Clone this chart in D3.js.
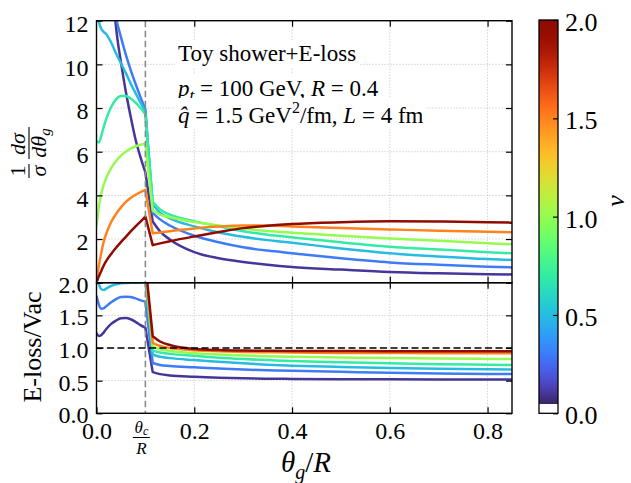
<!DOCTYPE html>
<html><head><meta charset="utf-8">
<script src="https://cdn.jsdelivr.net/npm/d3@7"></script>
<style>
body{margin:0;background:#fff}
svg{display:block}
text{font-family:"Liberation Serif","Times New Roman",serif;fill:#000}
</style>
</head><body>
<svg id="c" width="631" height="483"></svg>
<script>
// ---------------- data ----------------
const nuValues = [0.1, 0.3, 0.5, 0.7, 1.0, 1.5, 2.0];
const thetaGrid = [0,0.005,0.01,0.015,0.02,0.03,0.04,0.05,0.06,0.07,0.08,0.09,0.1,0.115,0.13,0.15,0.2,0.25,0.3,0.35,0.4,0.5,0.6,0.7,0.8,0.85];
const thetaC = 0.1;
// top panel: (1/sigma) dsigma/dtheta_g
const dist_nu01 = [30,26,23,20.5,18.5,14.5,11.7,10.1,8.75,7.6,6.55,5.75,5.05,2.8,2.35,1.98,1.4,1.12,0.95,0.82,0.72,0.6,0.49,0.43,0.39,0.38];
const dist_nu03 = [17.5,16.7,16,15.2,14.5,13.2,12.1,11.25,10.45,9.74,9.1,8.5,7.95,3.2,2.9,2.62,2.15,1.85,1.62,1.47,1.35,1.12,0.93,0.82,0.73,0.70];
const dist_nu05 = [12.8,11.95,11.62,11.48,11.38,11.0,10.5,10.05,9.6,9.12,8.68,8.25,7.85,3.6,3.2,2.95,2.58,2.3,2.1,1.95,1.83,1.57,1.35,1.2,1.08,1.04];
const dist_nu07 = [6.5,6.42,6.75,7.15,7.5,8.05,8.4,8.55,8.55,8.44,8.25,8.0,7.72,3.7,3.35,3.12,2.82,2.58,2.36,2.2,2.08,1.85,1.65,1.52,1.4,1.35];
const dist_nu10 = [2.6,3.5,4.1,4.5,4.8,5.25,5.57,5.82,6.0,6.14,6.25,6.32,6.36,3.3,3.12,3.0,2.78,2.62,2.48,2.37,2.29,2.15,2.03,1.92,1.81,1.76];
const dist_nu15 = [0.1,0.8,1.4,1.9,2.25,2.78,3.15,3.45,3.7,3.88,4.03,4.15,4.25,2.26,2.3,2.36,2.48,2.57,2.62,2.62,2.57,2.5,2.44,2.38,2.33,2.31];
const dist_nu20 = [0.0,0.3,0.55,0.8,1.0,1.32,1.6,1.86,2.1,2.35,2.58,2.8,3.03,1.72,1.8,1.9,2.12,2.32,2.5,2.61,2.69,2.77,2.81,2.8,2.77,2.75];
// bottom panel: E-loss / Vac
const ratio_nu01 = [1.23,1.185,1.2,1.24,1.29,1.37,1.42,1.455,1.46,1.44,1.4,1.35,1.31,0.63,0.6,0.58,0.56,0.545,0.535,0.53,0.527,0.522,0.52,0.518,0.517,0.517];
const ratio_nu03 = [1.8,1.66,1.6,1.61,1.64,1.7,1.75,1.78,1.785,1.78,1.76,1.73,1.71,0.77,0.74,0.725,0.705,0.685,0.67,0.66,0.65,0.635,0.62,0.61,0.603,0.6];
const ratio_nu05 = [2.1,1.97,1.9,1.89,1.91,1.95,1.975,1.99,1.995,2.0,2.0,2.005,2.01,0.9,0.865,0.845,0.815,0.79,0.765,0.745,0.73,0.71,0.695,0.683,0.674,0.67];
const ratio_nu07 = [2.6,2.5,2.45,2.42,2.4,2.38,2.36,2.34,2.32,2.3,2.27,2.22,2.15,0.96,0.93,0.91,0.88,0.85,0.83,0.815,0.8,0.78,0.765,0.753,0.745,0.74];
const ratio_nu10 = [3.0,2.9,2.8,2.75,2.7,2.62,2.55,2.5,2.45,2.4,2.34,2.28,2.2,1.02,0.98,0.955,0.92,0.9,0.885,0.875,0.865,0.855,0.845,0.838,0.833,0.83];
const ratio_nu15 = [3.5,3.3,3.1,3.0,2.9,2.8,2.7,2.6,2.5,2.45,2.38,2.32,2.25,1.08,1.03,1.0,0.965,0.95,0.94,0.935,0.93,0.925,0.922,0.92,0.92,0.92];
const ratio_nu20 = [4.0,3.7,3.4,3.2,3.05,2.9,2.8,2.7,2.6,2.5,2.43,2.36,2.3,1.18,1.1,1.045,0.985,0.968,0.96,0.957,0.955,0.953,0.951,0.95,0.95,0.95];
const distSeries = [dist_nu01, dist_nu03, dist_nu05, dist_nu07, dist_nu10, dist_nu15, dist_nu20];
const ratioSeries = [ratio_nu01, ratio_nu03, ratio_nu05, ratio_nu07, ratio_nu10, ratio_nu15, ratio_nu20];
const xTicks = [0, 0.2, 0.4, 0.6, 0.8];
const xTickLabels = ["0.0", "0.2", "0.4", "0.6", "0.8"];
const yTopTicks = [2, 4, 6, 8, 10, 12];
const yBotTicks = [0, 0.5, 1.0, 1.5, 2.0];
const cbTicks = [0, 0.5, 1.0, 1.5, 2.0];

// ---------------- scales ----------------
const svg = d3.select("#c");
const X0 = 96.5, X1 = 512;
const T0 = 20.7, TB = 282.7, B1 = 413.3;
const x = d3.scaleLinear().domain([0, 0.85]).range([X0, X1]);
const yT = d3.scaleLinear().domain([0, 12]).range([TB, T0]);
const yB = d3.scaleLinear().domain([0, 2]).range([B1, TB]);
const yC = d3.scaleLinear().domain([0, 2]).range([B1, 20]);
const color = v => d3.interpolateTurbo(v / 2);

const defs = svg.append("defs");
defs.append("clipPath").attr("id", "clipT").append("rect")
  .attr("x", X0).attr("y", T0).attr("width", X1 - X0).attr("height", TB - T0);
defs.append("clipPath").attr("id", "clipB").append("rect")
  .attr("x", X0).attr("y", TB).attr("width", X1 - X0).attr("height", B1 - TB);

// ---------------- grids ----------------
function grid(g, yScale, yVals, y0, y1) {
  g.selectAll("line.gx").data(xTicks.slice(1)).join("line")
    .attr("x1", d => x(d)).attr("x2", d => x(d)).attr("y1", y0).attr("y2", y1)
    .attr("stroke", "#b8b8b8").attr("stroke-width", 0.9).attr("stroke-dasharray", "1,2");
  g.selectAll("line.gy").data(yVals).join("line").attr("class","gy")
    .attr("x1", X0).attr("x2", X1).attr("y1", d => yScale(d)).attr("y2", d => yScale(d))
    .attr("stroke", "#b8b8b8").attr("stroke-width", 0.9).attr("stroke-dasharray", "1,2");
}
const gGridT = svg.append("g"); grid(gGridT, yT, [2,4,6,8,10], T0, TB);
const gGridB = svg.append("g"); grid(gGridB, yB, [0.5,1.0,1.5], TB, B1);

// ---------------- curves ----------------
const lineGen = (ys) => d3.line().x(d => x(d[0])).y(d => ys(d[1])).curve(d3.curveMonotoneX);
function curvePath(vals, ys) {
  const pts = thetaGrid.map((t, i) => [t, vals[i]]);
  const pre = pts.filter(p => p[0] <= thetaC);
  const post = pts.filter(p => p[0] > thetaC);
  const a = lineGen(ys)(pre);
  const b = lineGen(ys)(post);
  return a + "L" + b.slice(1);
}
const gCT = svg.append("g").attr("clip-path", "url(#clipT)");
const gCB = svg.append("g").attr("clip-path", "url(#clipB)");
nuValues.forEach((nu, k) => {
  gCT.append("path").attr("d", curvePath(distSeries[k], yT))
    .attr("fill", "none").attr("stroke", color(nu)).attr("stroke-width", 2.5)
    .attr("stroke-linejoin", "round");
  gCB.append("path").attr("d", curvePath(ratioSeries[k], yB))
    .attr("fill", "none").attr("stroke", color(nu)).attr("stroke-width", 2.5)
    .attr("stroke-linejoin", "round");
});

// reference lines
svg.append("line").attr("x1", x(thetaC)).attr("x2", x(thetaC)).attr("y1", T0).attr("y2", B1)
  .attr("stroke", "#8a8a8a").attr("stroke-width", 1.6).attr("stroke-dasharray", "6.5,3.5");
svg.append("line").attr("x1", X0).attr("x2", X1).attr("y1", yB(1)).attr("y2", yB(1))
  .attr("stroke", "#000").attr("stroke-width", 1.6).attr("stroke-dasharray", "7,3.5");

// ---------------- annotation ----------------
const ann = svg.append("g");
const annX = 178;
const lines = [
  {y: 61, parts: [["Toy shower+E-loss", {}]]},
  {y: 95.5, parts: [["p", {it:1}], ["t", {it:1, sub:1}], [" = 100 GeV, ", {}], ["R", {it:1}], [" = 0.4", {}]]},
  {y: 123, parts: [["q\u0302", {it:1}], [" = 1.5 GeV", {}], ["2", {sup:1}], ["/fm, ", {}], ["L", {it:1}], [" = 4 fm", {}]]}
];
lines.forEach(L => {
  const bg = ann.append("rect").attr("fill", "#fff");
  const t = ann.append("text").attr("x", annX).attr("y", L.y).attr("font-size", 23);
  L.parts.forEach(([s, o]) => {
    const ts = t.append("tspan").text(s);
    if (o.it) ts.attr("font-style", "italic");
    if (o.sub) ts.attr("font-size", 17).attr("dy", 5);
    if (o.sup) ts.attr("font-size", 16).attr("dy", -10);
    if (o.sub || o.sup) { ts.attr("data-r", 1); }
  });
  t.selectAll("tspan").each(function(d, i, nodes) {
    const prev = i > 0 ? nodes[i-1] : null;
    if (prev && prev.getAttribute("data-r") && !this.getAttribute("data-r")) {
      d3.select(this).attr("dy", -parseFloat(prev.getAttribute("dy")));
    }
  });
  const bb = t.node().getBBox();
  bg.attr("x", bb.x - 3).attr("y", bb.y - 1).attr("width", bb.width + 6).attr("height", bb.height + 2);
});

// ---------------- frames & axes ----------------
function frame(y0, y1) {
  svg.append("rect").attr("x", X0).attr("y", y0).attr("width", X1 - X0).attr("height", y1 - y0)
    .attr("fill", "none").attr("stroke", "#000").attr("stroke-width", 1.4);
}
function styleAxis(g) {
  g.select(".domain").remove();
  g.selectAll(".tick line").attr("stroke", "#000").attr("stroke-width", 1.2);
  g.selectAll("text").attr("font-family", "Liberation Serif, serif").attr("font-size", 24).attr("fill", "#000");
}
// top panel
const aTL = svg.append("g").attr("transform", `translate(${X0},0)`)
  .call(d3.axisLeft(yT).tickValues(yTopTicks).tickSize(-6).tickPadding(8).tickFormat(d3.format("d")));
styleAxis(aTL); aTL.selectAll("text").attr("dy", "0.45em");
const aTR = svg.append("g").attr("transform", `translate(${X1},0)`)
  .call(d3.axisRight(yT).tickValues(yTopTicks).tickSize(-6).tickFormat(""));
styleAxis(aTR);
const aTT = svg.append("g").attr("transform", `translate(0,${T0})`)
  .call(d3.axisTop(x).tickValues(xTicks.slice(1)).tickSize(-6).tickFormat(""));
styleAxis(aTT);
const aTB = svg.append("g").attr("transform", `translate(0,${TB})`)
  .call(d3.axisBottom(x).tickValues(xTicks.slice(1)).tickSize(-6).tickFormat(""));
styleAxis(aTB);
// bottom panel
const aBL = svg.append("g").attr("transform", `translate(${X0},0)`)
  .call(d3.axisLeft(yB).tickValues(yBotTicks).tickSize(-6).tickPadding(8).tickFormat(d3.format(".1f")));
styleAxis(aBL); aBL.selectAll("text").attr("dy", "0.4em");
const aBR = svg.append("g").attr("transform", `translate(${X1},0)`)
  .call(d3.axisRight(yB).tickValues(yBotTicks).tickSize(-6).tickFormat(""));
styleAxis(aBR);
const aBT = svg.append("g").attr("transform", `translate(0,${TB})`)
  .call(d3.axisTop(x).tickValues(xTicks.slice(1)).tickSize(-6).tickFormat(""));
styleAxis(aBT);
const aBB = svg.append("g").attr("transform", `translate(0,${B1})`)
  .call(d3.axisBottom(x).tickValues(xTicks).tickSize(-6).tickPadding(8.5).tickFormat((d, i) => xTickLabels[i]));
styleAxis(aBB);
frame(T0, TB); frame(TB, B1);

// theta_c / R tick label (one text element, stacked with tspans)
const fc = svg.append("g").attr("transform", `translate(${x(thetaC) - 4},0)`);
const ft = fc.append("text").attr("x", 0).attr("y", 433).attr("text-anchor", "middle").attr("font-size", 17);
ft.append("tspan").attr("font-style", "italic").text("θ");
ft.append("tspan").attr("font-style", "italic").attr("font-size", 12).attr("dy", 2).text("c");
ft.append("tspan").attr("font-style", "italic").attr("x", 0).attr("dy", 19).text("R");
fc.append("line").attr("x1", -8.5).attr("x2", 8.5).attr("y1", 437.5).attr("y2", 437.5).attr("stroke", "#000").attr("stroke-width", 1);

// axis labels
const xl = svg.append("text").attr("x", 306).attr("y", 472).attr("text-anchor", "middle").attr("font-size", 29);
xl.append("tspan").attr("font-style", "italic").text("θ");
xl.append("tspan").attr("font-style", "italic").attr("font-size", 20).attr("dy", 7).text("g");
xl.append("tspan").attr("dy", -7).text("/");
xl.append("tspan").attr("font-style", "italic").text("R");

svg.append("text").attr("transform", "translate(41,347) rotate(-90)").attr("text-anchor", "middle")
  .attr("font-size", 26).text("E-loss/Vac");

// y label fraction (1/sigma)(d sigma/d theta_g)
const yl = svg.append("g").attr("transform", "translate(29,152) rotate(-90)");
yl.append("text").attr("x", -19).attr("y", -4).attr("text-anchor", "middle").attr("font-size", 22).text("1");
yl.append("line").attr("x1", -26).attr("x2", -12).attr("y1", 0).attr("y2", 0).attr("stroke", "#000").attr("stroke-width", 1.1);
yl.append("text").attr("x", -19).attr("y", 17).attr("text-anchor", "middle").attr("font-size", 22).attr("font-style", "italic").text("σ");
const ynum = yl.append("text").attr("x", 8).attr("y", -4).attr("text-anchor", "middle").attr("font-size", 22).attr("font-style", "italic");
ynum.append("tspan").text("dσ");
yl.append("line").attr("x1", -7).attr("x2", 25).attr("y1", 0).attr("y2", 0).attr("stroke", "#000").attr("stroke-width", 1.1);
const yden = yl.append("text").attr("x", 9).attr("y", 17).attr("text-anchor", "middle").attr("font-size", 22).attr("font-style", "italic");
yden.append("tspan").text("dθ");
yden.append("tspan").attr("font-size", 15).attr("dy", 4).text("g");

// ---------------- colorbar ----------------
const CB0 = 539, CB1 = 558;
const grad = defs.append("linearGradient").attr("id", "cbg").attr("x1", 0).attr("x2", 0).attr("y1", 1).attr("y2", 0);
const cbStart = 0.047;
d3.range(0, 1.0001, 0.02).forEach(f => {
  const v = cbStart + f * (2 - cbStart);
  grad.append("stop").attr("offset", f).attr("stop-color", color(v));
});
svg.append("rect").attr("x", CB0).attr("y", yC(2)).attr("width", CB1 - CB0).attr("height", yC(cbStart) - yC(2))
  .attr("fill", "url(#cbg)");
svg.append("rect").attr("x", CB0).attr("y", yC(cbStart)).attr("width", CB1 - CB0).attr("height", yC(0) - yC(cbStart))
  .attr("fill", "#fff");
const aC = svg.append("g").attr("transform", `translate(${CB1},0)`)
  .call(d3.axisRight(yC).tickValues(cbTicks).tickSize(-5).tickPadding(7).tickFormat(d3.format(".1f")));
styleAxis(aC); aC.selectAll("text").attr("font-size", 26).attr("dy", "0.4em");
svg.append("rect").attr("x", CB0).attr("y", yC(2)).attr("width", CB1 - CB0).attr("height", yC(0) - yC(2))
  .attr("fill", "none").attr("stroke", "#000").attr("stroke-width", 1.3);
svg.append("text").attr("transform", "translate(624,201) rotate(-90)").attr("text-anchor", "middle")
  .attr("font-size", 26).attr("font-style", "italic").text("ν");
</script>
</body></html>
